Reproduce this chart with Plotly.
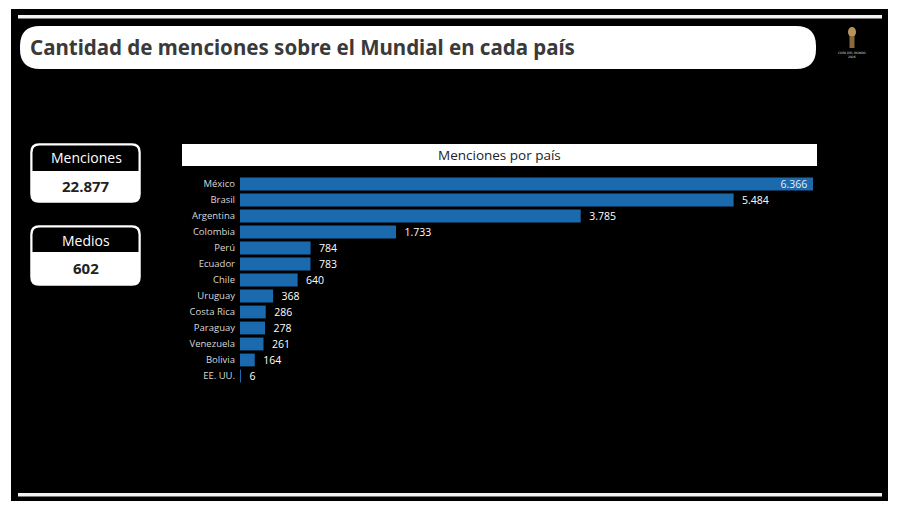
import plotly.graph_objects as go

paises = ["México", "Brasil", "Argentina", "Colombia", "Perú", "Ecuador", "Chile",
          "Uruguay", "Costa Rica", "Paraguay", "Venezuela", "Bolivia", "EE. UU."]
menciones = [6366, 5484, 3785, 1733, 784, 783, 640, 368, 286, 278, 261, 164, 6]
etiquetas = ["6.366", "5.484", "3.785", "1.733", "784", "783", "640", "368", "286", "278", "261", "164", "6"]
total_menciones = "22.877"
total_medios = "602"

W, H = 900, 505
def px(x):
    return x / W
def py(y):
    return 1 - y / H

def rrect(x0, y0, x1, y1, r):
    pts = [
        f"M {px(x0 + r)},{py(y0)}",
        f"L {px(x1 - r)},{py(y0)}",
        f"Q {px(x1)},{py(y0)} {px(x1)},{py(y0 + r)}",
        f"L {px(x1)},{py(y1 - r)}",
        f"Q {px(x1)},{py(y1)} {px(x1 - r)},{py(y1)}",
        f"L {px(x0 + r)},{py(y1)}",
        f"Q {px(x0)},{py(y1)} {px(x0)},{py(y1 - r)}",
        f"L {px(x0)},{py(y0 + r)}",
        f"Q {px(x0)},{py(y0)} {px(x0 + r)},{py(y0)}",
        "Z",
    ]
    return " ".join(pts)

def rrect_top(x0, y0, x1, y1, r):
    pts = [
        f"M {px(x0)},{py(y1)}",
        f"L {px(x0)},{py(y0 + r)}",
        f"Q {px(x0)},{py(y0)} {px(x0 + r)},{py(y0)}",
        f"L {px(x1 - r)},{py(y0)}",
        f"Q {px(x1)},{py(y0)} {px(x1)},{py(y0 + r)}",
        f"L {px(x1)},{py(y1)}",
        "Z",
    ]
    return " ".join(pts)

positions = ["inside"] + ["outside"] * (len(menciones) - 1)
templates = ["%{text} "] + ["  %{text}"] * (len(menciones) - 1)

fig = go.Figure(go.Bar(
    x=menciones, y=paises, orientation="h",
    marker=dict(color="#1C6AAE", line=dict(width=0)),
    width=0.8,
    text=etiquetas, texttemplate=templates, textposition=positions, insidetextanchor="end",
    textangle=0, constraintext="none",
    textfont=dict(color="#ffffff", size=10.5, family="Open Sans"),
    outsidetextfont=dict(color="#ffffff", size=10.5, family="Open Sans"),
    insidetextfont=dict(color="#e8eef5", size=10.5, family="Open Sans"),
    cliponaxis=False, hoverinfo="skip",
))

shapes = []
shapes.append(dict(type="rect", xref="paper", yref="paper", x0=px(11), x1=px(888), y0=py(501), y1=py(9),
                   fillcolor="#000000", line=dict(width=0), layer="below"))
shapes.append(dict(type="rect", xref="paper", yref="paper", x0=px(18), x1=px(882), y0=py(18.5), y1=py(15),
                   fillcolor="#f2f2f2", line=dict(width=0), layer="below"))
shapes.append(dict(type="rect", xref="paper", yref="paper", x0=px(18), x1=px(882), y0=py(496.5), y1=py(493),
                   fillcolor="#f2f2f2", line=dict(width=0), layer="below"))
shapes.append(dict(type="path", xref="paper", yref="paper", path=rrect(20, 26, 816, 69, 20),
                   fillcolor="#ffffff", line=dict(width=0), layer="below"))
shapes.append(dict(type="rect", xref="paper", yref="paper", x0=px(182), x1=px(817), y0=py(166), y1=py(144),
                   fillcolor="#ffffff", line=dict(width=0), layer="below"))
for (y0, ym, y1) in [(144, 171, 202), (226, 252, 285)]:
    shapes.append(dict(type="path", xref="paper", yref="paper", path=rrect(31, y0, 140, y1, 8),
                       fillcolor="#ffffff", line=dict(color="#ffffff", width=1.5), layer="below"))
    shapes.append(dict(type="path", xref="paper", yref="paper", path=rrect_top(32.5, y0 + 1.5, 138.5, ym, 7),
                       fillcolor="#000000", line=dict(width=0), layer="below"))
shapes.append(dict(type="circle", xref="paper", yref="paper", x0=px(848), x1=px(856), y0=py(37), y1=py(27),
                   fillcolor="#b8935a", line=dict(width=0)))
shapes.append(dict(type="rect", xref="paper", yref="paper", x0=px(849.5), x1=px(854.5), y0=py(48), y1=py(36),
                   fillcolor="#8a6a3a", line=dict(width=0)))

annotations = [
    dict(text="<b>Cantidad de menciones sobre el Mundial en cada país</b>", x=px(28), y=py(47.5),
         xref="paper", yref="paper", xanchor="left", yanchor="middle", showarrow=False,
         font=dict(family="Noto Sans", size=20.5, color="#3a3a3a")),
    dict(text="Menciones por país", x=px(499.5), y=py(155), xref="paper", yref="paper",
         xanchor="center", yanchor="middle", showarrow=False,
         font=dict(family="Open Sans", size=13.5, color="#222222")),
    dict(text="Menciones", x=px(86), y=py(157.5), xref="paper", yref="paper", showarrow=False,
         xanchor="center", yanchor="middle", font=dict(family="Open Sans", size=14, color="#ffffff")),
    dict(text="<b>" + total_menciones + "</b>", x=px(86), y=py(185.5), xref="paper", yref="paper", showarrow=False,
         xanchor="center", yanchor="middle", font=dict(family="Open Sans", size=15, color="#222222")),
    dict(text="Medios", x=px(86), y=py(240), xref="paper", yref="paper", showarrow=False,
         xanchor="center", yanchor="middle", font=dict(family="Open Sans", size=14, color="#ffffff")),
    dict(text="<b>" + total_medios + "</b>", x=px(86), y=py(267.5), xref="paper", yref="paper", showarrow=False,
         xanchor="center", yanchor="middle", font=dict(family="Open Sans", size=15, color="#222222")),
    dict(text="COPA DEL MUNDO<br>2026", x=px(852), y=py(55), xref="paper", yref="paper", showarrow=False,
         xanchor="center", yanchor="middle", font=dict(family="DejaVu Sans", size=3, color="#dddddd")),
]

fig.update_layout(
    width=W, height=H, margin=dict(l=0, r=0, t=0, b=0),
    paper_bgcolor="#ffffff", plot_bgcolor="rgba(0,0,0,0)",
    showlegend=False, shapes=shapes, annotations=annotations,
    xaxis=dict(domain=[px(240), px(813)], range=[0, 6366], visible=False, fixedrange=True),
    yaxis=dict(domain=[py(384), py(176)], range=[12.5, -0.5], showgrid=False, zeroline=False,
               showline=False, ticks="", ticklabelstandoff=4,
               tickfont=dict(family="Open Sans", size=9.5, color="#d8d8d8"), fixedrange=True),
    bargap=0.2,
)

fig.write_html("out.html")
